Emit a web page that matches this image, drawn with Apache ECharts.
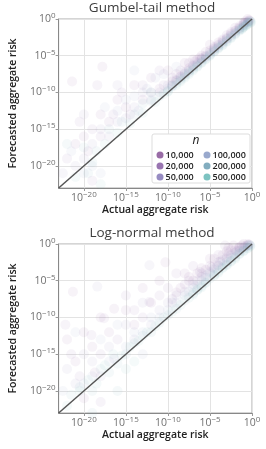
<!DOCTYPE html>
<html><head><meta charset="utf-8">
<script src="https://cdn.jsdelivr.net/npm/echarts@6/dist/echarts.min.js"></script>
<style>html,body{margin:0;padding:0;background:#fff}#c{width:266px;height:449px}</style>
</head><body><div id="c"></div>
<script>
// values are log10 of risk: [actual, forecasted]
const nLabels = ['10,000','20,000','50,000','100,000','200,000','500,000'];
const nColors = ['#8e5c9c','#8e66a9','#8c7fbb','#8ea0c8','#74a4b8','#6fbcba'];
const tickExps = [-20,-15,-10,-5,0];
const axisMin = -23, axisMax = 0;

const gumbel10 = [[-21,-17],[-20,-16],[-19.5,-18],[-18,-13],[-17,-14],[-16,-11],[-15,-12],[-14,-9],[-13,-11],[-12,-8],[-11,-9.5],[-10,-7],[-9,-7.5],[-8,-6],[-7,-5.5],[-6.5,-5.5],[-6,-5],[-5.5,-4.5],[-5,-3.5],[-4,-3.2],[-3,-2.2],[-2,-1.2],[-1,-0.5],[-0.5,0],[-17.8,-6.5],[-21.4,-8.5],[-9.5,-8.5],[-8.5,-7.8],[-7.5,-6.7],[-6,-5.4],[-4.5,-4],[-3.5,-3],[-2.5,-2],[-1.5,-1.2],[-0.8,-0.5],[-0.3,-0.2]];
const gumbel20 = [[-22,-19],[-20.5,-14],[-19,-15],[-18,-16],[-16.5,-13],[-15.5,-10],[-14.5,-13],[-13,-9],[-12,-10],[-11,-7],[-10.5,-9],[-9.5,-8],[-8.5,-7],[-7.5,-6],[-6.8,-5.8],[-6.2,-5.3],[-5,-4.3],[-4.5,-3.8],[-3.5,-2.8],[-2.5,-1.8],[-1.5,-1],[-0.8,-0.3],[-18.4,-9],[-19,-22],[-9,-8.4],[-8,-7.4],[-7,-6.4],[-5.5,-5],[-4,-3.5],[-3,-2.6],[-2,-1.6],[-1,-0.7],[-0.4,-0.2]];
const gumbel50 = [[-22.5,-21],[-21,-20],[-20,-19],[-19,-17],[-18,-15],[-17,-16],[-16,-14],[-15,-13.5],[-14,-12],[-13,-10],[-12,-11],[-11,-10],[-10,-9],[-9,-8.3],[-8,-7.2],[-7,-6.3],[-6,-5.4],[-5,-4.6],[-4,-3.6],[-3,-2.7],[-2,-1.7],[-1,-0.8],[-20,-13],[-16,-9],[-9.5,-9],[-8.5,-7.9],[-7.5,-7],[-6.5,-6],[-5.5,-5.1],[-4.5,-4.1],[-3.5,-3.2],[-2.5,-2.2],[-1.5,-1.3],[-0.5,-0.4]];
const gumbel100 = [[-21.5,-18],[-20,-21],[-19,-20],[-18,-21],[-17.5,-12],[-16,-12.5],[-15,-11],[-14,-10.5],[-13.5,-12.5],[-12.5,-9.5],[-11.5,-8],[-10.5,-7.5],[-10,-9.5],[-9,-6.5],[-8,-7.5],[-7,-6.6],[-6,-5.7],[-5,-4.8],[-4,-3.8],[-3,-2.8],[-2,-1.9],[-1,-0.9],[-0.5,-0.4],[-14,-7],[-9.5,-9.1],[-8.5,-8.1],[-7.5,-7.1],[-6.5,-6.2],[-5.5,-5.2],[-4.5,-4.3],[-3.5,-3.3],[-2.5,-2.3],[-1.5,-1.4],[-0.3,-0.3]];
const gumbel200 = [[-22,-17],[-20,-17.5],[-18.5,-18],[-17,-15],[-15.5,-14],[-14,-13],[-13,-11.5],[-12,-11.2],[-11,-10.5],[-10,-9.8],[-9.5,-9.2],[-9,-8.7],[-8,-7.8],[-7,-6.8],[-6,-5.9],[-5,-4.9],[-4,-3.9],[-3,-3],[-2,-2.1],[-1.5,-1.6],[-1,-1.1],[-0.5,-0.6],[-0.2,-0.5],[-19.5,-21],[-8.5,-8.3],[-7.5,-7.3],[-6.5,-6.4],[-5.5,-5.4],[-4.5,-4.4],[-3.5,-3.5],[-2.5,-2.5],[-1.2,-1.3],[-0.7,-0.8]];
const gumbel500 = [[-21,-21.5],[-19,-19.5],[-17.5,-17],[-16,-15.5],[-14.5,-14.2],[-13,-12.8],[-11.5,-11.3],[-10.5,-10.2],[-10,-9.9],[-9,-9],[-8,-8],[-7,-7],[-6,-6],[-5,-5],[-4,-4],[-3,-3.1],[-2.5,-2.6],[-2,-2],[-1.5,-1.5],[-1,-1.1],[-0.5,-0.7],[-0.2,-0.3],[-18,-22.5],[-12,-10],[-8.5,-8.5],[-7.5,-7.5],[-6.5,-6.5],[-5.5,-5.5],[-4.5,-4.5],[-3.5,-3.6],[-1.2,-1.4],[-0.7,-0.9],[-0.1,-0.4]];

const lognorm10 = [[-22,-13],[-21.3,-6.5],[-21,-16],[-20,-12],[-19,-14],[-18,-10],[-17,-12],[-16.4,-8.8],[-15,-9],[-14,-11],[-13,-6],[-12,-8],[-11,-5],[-10.3,-2.5],[-9,-6.6],[-8,-4],[-7,-5],[-6,-3.3],[-5,-2],[-4.1,-2.9],[-3,-1],[-2.2,-0.2],[-1.5,-0.5],[-1,0],[-18.7,-17.5],[-20,-21],[-4.5,-2],[-3.5,-1.5],[-2.8,-0.5],[-2,-0.8],[-1.2,-0.2],[-0.5,0],[-6.5,-4],[-5.5,-3.5],[-8.5,-6],[-7.5,-4.5]];
const lognorm20 = [[-22.2,-11],[-21.5,-15],[-20.5,-18],[-19.1,-12.4],[-18,-15],[-17.6,-10.1],[-16,-13],[-15,-7],[-14,-9],[-13,-10],[-12.2,-7.9],[-11,-7],[-10,-6],[-9,-4],[-8,-5.5],[-7,-3],[-6,-4.5],[-5,-3],[-4,-1.5],[-3,-2],[-2.5,-0.8],[-1.8,-1],[-0.8,-0.3],[-18,-21.5],[-4.8,-3.2],[-3.8,-2.4],[-2.8,-1.3],[-1.5,-0.4],[-0.4,-0.1],[-6.2,-3.8],[-7.5,-5],[-9.5,-7.5],[-3.2,-0.2]];
const lognorm50 = [[-22,-17],[-21,-19],[-20,-15],[-19,-16],[-18.4,-5.8],[-18,-18],[-17,-14],[-16.4,-15.6],[-15,-11],[-14,-13],[-13,-8],[-12.2,-2.9],[-12,-11],[-11,-9],[-10,-8],[-9,-7],[-8,-6.5],[-7,-5.5],[-6,-4],[-5,-3.8],[-4,-2.5],[-3,-1.8],[-2,-1.2],[-1,-0.4],[-4.5,-3.3],[-3.5,-2.2],[-2.5,-1.5],[-1.5,-0.8],[-0.5,-0.2],[-5.5,-4.3],[-6.5,-5],[-9.5,-8]];
const lognorm100 = [[-22.5,-20],[-21,-12],[-20,-19],[-19,-18],[-18,-13],[-17,-16],[-16,-11],[-15,-14],[-14,-12],[-13,-12],[-12,-10],[-11,-10],[-10,-9],[-9,-8],[-8,-7],[-7,-6],[-6,-5],[-5,-4],[-4,-3],[-3,-2.5],[-2,-1.5],[-1.5,-1],[-0.5,-0.2],[-13,-15],[-4.5,-3.5],[-3.5,-2.8],[-2.5,-1.9],[-1,-0.6],[-0.3,-0.1],[-5.5,-4.6],[-6.5,-5.6],[-7.5,-6.5]];
const lognorm200 = [[-21.5,-20.5],[-20.5,-19.5],[-19,-20],[-18,-17],[-17,-17.5],[-16,-16.3],[-15,-15],[-14,-13.5],[-13,-12.5],[-12,-12],[-11,-10.7],[-10,-9.7],[-9,-8.8],[-8,-7.7],[-7,-6.7],[-6,-5.7],[-5,-4.7],[-4,-3.7],[-3,-2.8],[-2,-1.8],[-1,-0.9],[-0.5,-0.6],[-16,-20],[-19,-23],[-4.5,-4.2],[-3.5,-3.2],[-2.5,-2.3],[-1.5,-1.3],[-0.2,-0.2],[-5.5,-5.2],[-6.5,-6.2]];
const lognorm500 = [[-22,-22],[-20.5,-20],[-19.5,-18.5],[-18.5,-19],[-17.5,-16.5],[-16.5,-15],[-15.5,-15.2],[-14.5,-14],[-13.5,-13.2],[-12.5,-12],[-11.5,-11.2],[-10.5,-10],[-9.5,-9.2],[-8.5,-8.3],[-7.5,-7.3],[-6.5,-6.3],[-5.5,-5.3],[-4.5,-4.3],[-3.5,-3.3],[-2.5,-2.4],[-1.5,-1.4],[-0.5,-0.5],[-15,-17],[-14,-16],[-4,-3.9],[-3,-2.9],[-2,-2],[-1,-1],[-0.2,-0.3],[-6,-5.9],[-7,-6.9]];

const gumbelSets = [gumbel10,gumbel20,gumbel50,gumbel100,gumbel200,gumbel500];
const lognormSets = [lognorm10,lognorm20,lognorm50,lognorm100,lognorm200,lognorm500];
const panelTitles = ['Gumbel-tail method','Log-normal method'];
const xTitle = 'Actual aggregate risk';
const yTitle = 'Forecasted aggregate risk';

const FONT = 'Open Sans';
const rich = {
  b:{fontSize:10.5,color:'#707070',fontFamily:FONT},
  s:{fontSize:8,color:'#707070',fontFamily:FONT,padding:[0,0,7,0]}
};
function fmt(v){ return '{b|10}{s|' + (v===0 ? '0' : '\u2212' + (-v)) + '}'; }

const grids = [
  {left:53,right:14,top:19,height:169},
  {left:53,right:14,top:244,height:169}
];
function mkAxis(idx, isX){
  return {
    type:'value', gridIndex:idx, min:axisMin, max:axisMax,
    name: isX ? xTitle : yTitle, nameLocation:'middle', nameGap: isX ? 17 : 39,
    nameTextStyle:{fontFamily:FONT,fontSize:10.5,fontWeight:600,color:'#222'},
    axisLine:{show:true,onZero:false,lineStyle:{color:'#888',width:1}},
    axisTick:{show:true,length:3,customValues:tickExps,lineStyle:{color:'#999'}},
    axisLabel:{customValues:tickExps,formatter:fmt,rich:rich,margin:3},
    splitLine:{show:true,lineStyle:{color:'#e3e3e3',width:1}}
  };
}
const series = [];
[gumbelSets, lognormSets].forEach((sets, gi) => {
  sets.forEach((d, si) => {
    series.push({
      type:'scatter', name:nLabels[si], xAxisIndex:gi, yAxisIndex:gi,
      data:d, symbolSize:10, clip:true,
      itemStyle:{color:nColors[si],opacity:0.07}, z:2, silent:true
    });
  });
  series.push({
    type:'line', xAxisIndex:gi, yAxisIndex:gi, data:[[axisMin,axisMin],[axisMax,axisMax]],
    symbol:'none', lineStyle:{color:'#555',width:1.5}, z:5, silent:true
  });
});

const legendCommon = {
  orient:'vertical', icon:'circle', itemWidth:7, itemHeight:7, itemGap:0, itemStyle:{opacity:0.9},
  textStyle:{fontFamily:FONT,fontSize:9,lineHeight:11,color:'#222',fontWeight:600,padding:[0,0,0,-3]},
  selectedMode:false, z:20, padding:0
};

const chart = echarts.init(document.getElementById('c'), null, {renderer:'canvas'});
chart.setOption({
  animation:false,
  backgroundColor:'#fff',
  title: panelTitles.map((t,i)=>({text:t,top:i===0?1:226,
    textStyle:{fontFamily:FONT,fontSize:13.5,fontWeight:'normal',color:'#3c3c3c'}, padding:0, left:152, textAlign:'center'})),
  grid: grids.map(g=>Object.assign({show:true,borderColor:'#aaa',borderWidth:1,backgroundColor:'transparent'},g)),
  xAxis:[mkAxis(0,true),mkAxis(1,true)],
  yAxis:[mkAxis(0,false),mkAxis(1,false)],
  legend:[
    Object.assign({data:nLabels.slice(0,3),left:156.5,top:149.5},legendCommon),
    Object.assign({data:nLabels.slice(3),left:203.5,top:149.5},legendCommon)
  ],
  graphic:[
    {type:'rect',shape:{x:152,y:134,width:98,height:49,r:2},style:{fill:'#fff',stroke:'#ddd',lineWidth:1},z:15},
    {type:'text',x:196,y:135,style:{text:'n',font:'italic 12px '+FONT,fill:'#222',textAlign:'center'},z:16}
  ],
  series
});
</script></body></html>
